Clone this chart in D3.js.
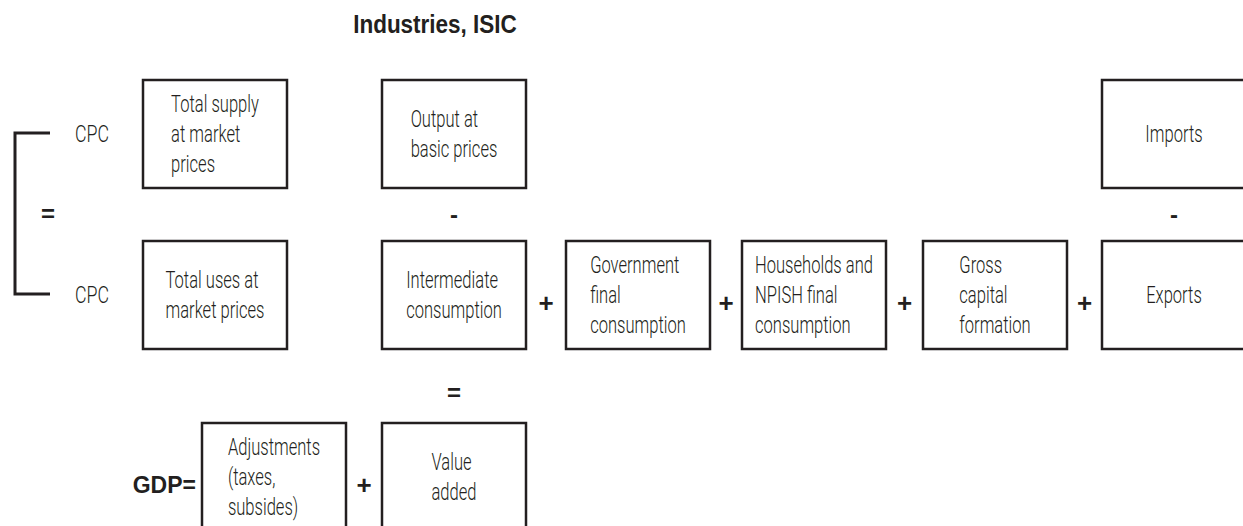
<!DOCTYPE html>
<html>
<head>
<meta charset="utf-8">
<script src="https://cdn.jsdelivr.net/npm/d3@7"></script>
<style>
  body { margin: 0; background: #fff; }
  svg { display: block; }
  .lbl { font-family: Roboto, "Liberation Sans", sans-serif; font-weight: 300; font-size: 24px; fill: #231f20; }
  .bold { font-family: "Liberation Sans", Arial, sans-serif; font-weight: bold; fill: #231f20; }
</style>
</head>
<body>
<div id="chart"></div>
<script>
// diagram content
var title = "Industries, ISIC";
var boxLines = [
    ["Total supply", "at market", "prices"],
    ["Output at", "basic prices"],
    ["Imports"],
    ["Total uses at", "market prices"],
    ["Intermediate", "consumption"],
    ["Government", "final", "consumption"],
    ["Households and", "NPISH final", "consumption"],
    ["Gross", "capital", "formation"],
    ["Exports"],
    ["Adjustments", "(taxes,", "subsides)"],
    ["Value", "added"]
];
var boxColumns = ["supply", "industry", "trade", "supply", "industry", "government", "households", "gross", "trade", "adjust", "industry"];
var boxRows = ["top", "top", "top", "middle", "middle", "middle", "middle", "middle", "middle", "bottom", "bottom"];
var cpcLabels = ["CPC", "CPC"];
var cpcRows = ["top", "middle"];
// "+" signs between two neighbouring boxes of a row
var plusRows = ["middle", "middle", "middle", "middle", "bottom"];
var plusLeft = ["industry", "government", "households", "gross", "adjust"];
var plusRight = ["government", "households", "gross", "trade", "industry"];
// signs between the rows
var minusColumns = ["industry", "trade"];
var gdpLabel = "GDP=";

// set the dimensions of the graph
var width = 1243, height = 526;
var boxW = 144, boxH = 108;
var squeeze = 0.69; // the original face is a condensed one

var svg = d3.select("#chart")
    .append("svg")
    .attr("width", width)
    .attr("height", height);

var x = d3.scaleOrdinal()
    .domain(["supply", "adjust", "industry", "government", "households", "gross", "trade"])
    .range([143, 202, 382, 566, 742, 923, 1102]);

var y = d3.scaleOrdinal()
    .domain(["top", "middle", "bottom"])
    .range([80, 241, 423]);

var ink = "#231f20";

// title
svg.append("text")
    .attr("class", "bold")
    .attr("transform", "translate(" + (x("industry") + boxW / 2 - 19) + ",33) scale(0.9,1)")
    .attr("text-anchor", "middle")
    .style("font-size", "25px")
    .text(title);

// boxes
var boxes = svg.selectAll("g.box")
    .data(boxLines)
    .enter()
    .append("g")
    .attr("class", "box")
    .attr("transform", function (d, i) {
        return "translate(" + x(boxColumns[i]) + "," + y(boxRows[i]) + ")";
    });

boxes.append("rect")
    .attr("width", boxW)
    .attr("height", boxH)
    .attr("fill", "none")
    .attr("stroke", ink)
    .attr("stroke-width", 2.5);

var lineGap = 30;
boxes.each(function (lines) {
    var g = d3.select(this).append("g");
    var t = g.selectAll("text")
        .data(lines)
        .enter()
        .append("text")
        .attr("class", "lbl")
        .attr("y", function (d, j) {
            return boxH / 2 + (j - (lines.length - 1) / 2) * lineGap + 8;
        })
        .text(function (d) { return d; });
    // left aligned lines, block centred in the box
    var maxW = 0;
    t.each(function () { maxW = Math.max(maxW, this.getComputedTextLength()); });
    g.attr("transform", "translate(" + (boxW - maxW * squeeze) / 2 + ",0) scale(" + squeeze + ",1)");
});

// bracket joining the two CPC rows
var bTop = y("top") + boxH / 2 - 1, bBot = y("middle") + boxH / 2 - 1;
svg.append("path")
    .attr("d", "M50," + bTop + "H15V" + bBot + "H50")
    .attr("fill", "none")
    .attr("stroke", ink)
    .attr("stroke-width", 3);

svg.selectAll("text.cpc")
    .data(cpcLabels)
    .enter()
    .append("text")
    .attr("class", "lbl cpc")
    .attr("transform", function (d, i) {
        return "translate(75," + (y(cpcRows[i]) + boxH / 2 + 8) + ") scale(" + (squeeze + 0.05) + ",1)";
    })
    .text(function (d) { return d; });

function sign(sym, cx, cy, size) {
    svg.append("text")
        .attr("class", "bold")
        .attr("x", cx)
        .attr("y", cy)
        .attr("text-anchor", "middle")
        .attr("dominant-baseline", "central")
        .style("font-size", size + "px")
        .text(sym);
}

sign("=", 48, (bTop + bBot) / 2, 24);

// "+" between boxes
for (var i = 0; i < plusRows.length; i++) {
    var gapL = x(plusLeft[i]) + boxW, gapR = x(plusRight[i]);
    sign("+", (gapL + gapR) / 2, y(plusRows[i]) + boxH * 0.57, 26);
}

// "-" between top and middle row
for (var i = 0; i < minusColumns.length; i++) {
    sign("-", x(minusColumns[i]) + boxW / 2, (y("top") + boxH + y("middle")) / 2, 24);
}

// "=" between intermediate consumption and value added
sign("=", x("industry") + boxW / 2, (y("middle") + boxH + y("bottom")) / 2 + 6, 24);

svg.append("text")
    .attr("class", "bold")
    .attr("x", x("adjust") - 6)
    .attr("y", y("bottom") + boxH * 0.57)
    .attr("text-anchor", "end")
    .attr("dominant-baseline", "central")
    .style("font-size", "23px")
    .text(gdpLabel);
</script>
</body>
</html>
